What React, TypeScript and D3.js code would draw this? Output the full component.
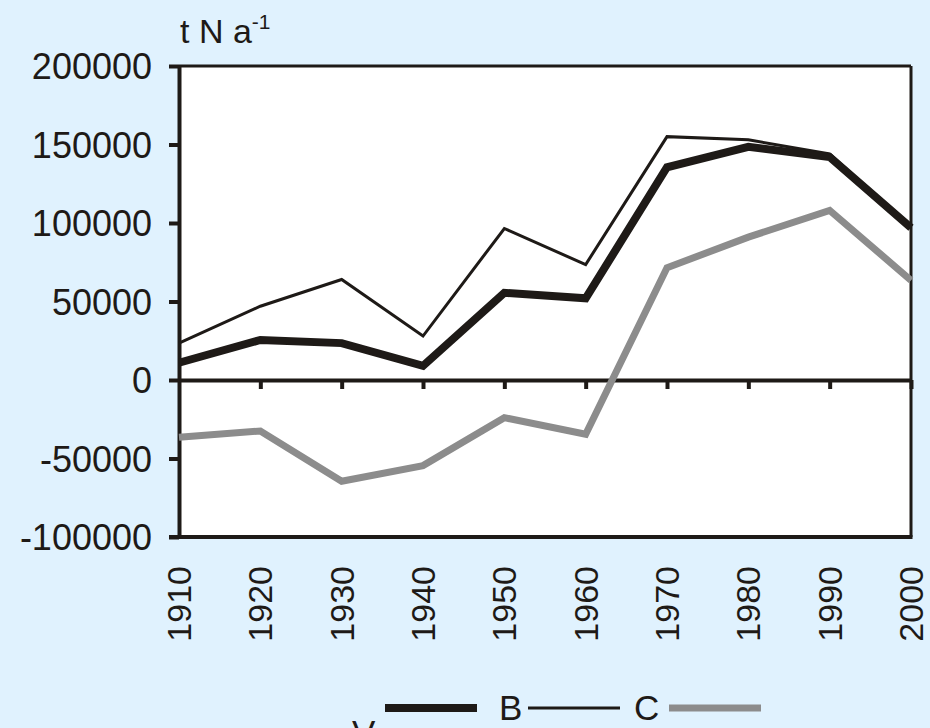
import * as d3 from "d3"
import { useLayoutEffect, useRef } from "react"

const years = [1910, 1920, 1930, 1940, 1950, 1960, 1970, 1980, 1990, 2000]
const seriesV = [11000, 25500, 23500, 9000, 55500, 52000, 135500, 148500, 142000, 97000]
const seriesB = [23500, 47000, 64000, 28000, 96500, 73500, 155000, 153000, 144000, 97000]
const seriesC = [-36500, -32500, -64500, -54500, -24000, -34500, 71500, 91000, 108000, 63500]
const yTicks = [-100000, -50000, 0, 50000, 100000, 150000, 200000]

const ink = "#1e1a17"
const grey = "#8c8c8c"
const bg = "#e0f2fe"

export default function App() {
  const ref = useRef<HTMLDivElement>(null)

  useLayoutEffect(() => {
    if (!ref.current) return
    const el = ref.current
    d3.select(el).selectAll("svg").remove()

    const W = 930
    const H = 728
    const left = 179
    const right = 911
    const top = 66
    const bottom = 537

    const svg = d3
      .select(el)
      .append("svg")
      .attr("width", W)
      .attr("height", H)
      .style("display", "block")
      .style("font-family", "Liberation Sans, Arial, sans-serif")

    svg.append("rect").attr("width", W).attr("height", H).attr("fill", bg)

    const x = d3.scaleLinear().domain([1910, 2000]).range([left, right])
    const y = d3.scaleLinear().domain([-100000, 200000]).range([bottom, top])

    svg
      .append("rect")
      .attr("x", left)
      .attr("y", top)
      .attr("width", right - left)
      .attr("height", bottom - top)
      .attr("fill", "#fff")

    // frame: top + right thinner, left + bottom heavier
    svg.append("line").attr("x1", left).attr("x2", right).attr("y1", top).attr("y2", top)
      .attr("stroke", ink).attr("stroke-width", 3)
    svg.append("line").attr("x1", right).attr("x2", right).attr("y1", top).attr("y2", bottom)
      .attr("stroke", ink).attr("stroke-width", 3)

    // y axis
    const yAxis = svg
      .append("g")
      .attr("transform", `translate(${left},0)`)
      .call(d3.axisLeft(y).tickValues(yTicks).tickSize(10).tickSizeOuter(0).tickPadding(17).tickFormat((d) => String(d)))
    yAxis.select(".domain").attr("stroke", ink).attr("stroke-width", 4)
    yAxis.selectAll(".tick line").attr("stroke", ink).attr("stroke-width", 4)
    yAxis.selectAll("text").attr("fill", ink).style("font-size", "36px").attr("dy", "0.36em")

    // bottom line
    svg.append("line").attr("x1", left - 10).attr("x2", right + 1.5).attr("y1", bottom).attr("y2", bottom)
      .attr("stroke", ink).attr("stroke-width", 4)

    // zero line with ticks hanging down
    const zeroAxis = svg
      .append("g")
      .attr("transform", `translate(0,${y(0)})`)
      .call(d3.axisBottom(x).tickValues(years.slice(1)).tickSize(9).tickSizeOuter(0).tickFormat(() => ""))
    zeroAxis.select(".domain").attr("stroke", ink).attr("stroke-width", 4)
    zeroAxis.selectAll(".tick line").attr("stroke", ink).attr("stroke-width", 4)

    // year labels, rotated
    svg
      .append("g")
      .selectAll("text")
      .data(years)
      .enter()
      .append("text")
      .attr("transform", (d) => `translate(${x(d) + 12},566) rotate(-90)`)
      .attr("text-anchor", "end")
      .attr("fill", ink)
      .style("font-size", "34px")
      .text((d) => String(d))

    // unit label
    const unit = svg.append("text").attr("x", 180).attr("y", 43).attr("fill", ink).style("font-size", "34px")
    unit.append("tspan").text("t N a")
    unit.append("tspan").attr("dy", -14).style("font-size", "21px").text("-1")

    const line = d3
      .line<number>()
      .x((_, i) => x(years[i]))
      .y((d) => y(d))

    const series = [
      { name: "C", values: seriesC, color: grey, width: 7 },
      { name: "B", values: seriesB, color: ink, width: 3 },
      { name: "V", values: seriesV, color: ink, width: 8 },
    ]

    svg
      .selectAll(".series")
      .data(series)
      .enter()
      .append("path")
      .attr("class", "series")
      .attr("d", (d) => line(d.values))
      .attr("fill", "none")
      .attr("stroke", (d) => d.color)
      .attr("stroke-width", (d) => d.width)
      .attr("stroke-linejoin", "miter")

    // legend (the first label sits low and is clipped by the page edge, as in the source)
    const legend = [
      { name: "V", color: ink, width: 8, tx: 352, ty: 745, lx: 385 },
      { name: "B", color: ink, width: 3, tx: 499, ty: 720, lx: 528 },
      { name: "C", color: grey, width: 7, tx: 634, ty: 720, lx: 669 },
    ]
    const lg = svg.append("g").selectAll("g").data(legend).enter().append("g")
    lg.append("text")
      .attr("x", (d) => d.tx)
      .attr("y", (d) => d.ty)
      .attr("fill", ink)
      .style("font-size", "35px")
      .text((d) => d.name)
    lg.append("line")
      .attr("x1", (d) => d.lx)
      .attr("x2", (d) => d.lx + 92)
      .attr("y1", 708)
      .attr("y2", 708)
      .attr("stroke", (d) => d.color)
      .attr("stroke-width", (d) => d.width)

    return () => {
      d3.select(el).selectAll("svg").remove()
    }
  }, [])

  return <div ref={ref} style={{ position: "fixed", left: 0, top: 0, width: 930, height: 728, overflow: "hidden" }} />
}
